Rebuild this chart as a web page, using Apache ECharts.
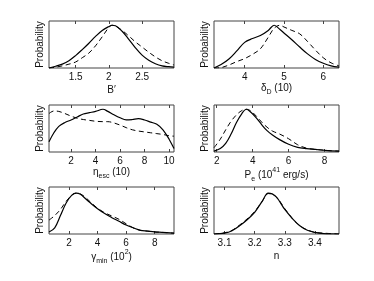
<!DOCTYPE html>
<html><head><meta charset="utf-8">
<script src="https://cdn.jsdelivr.net/npm/echarts@6/dist/echarts.min.js"></script>
<style>html,body{margin:0;padding:0;background:#fff}#c{width:374px;height:281px}</style>
</head><body><div id="c"></div>
<script>
// ---- data ----
const bX      = [1.1,1.2,1.3,1.4,1.5,1.6,1.7,1.8,1.9,2.0,2.05,2.1,2.2,2.3,2.4,2.5,2.6,2.7,2.8,2.9,2.98];
const bSolid  = [0,0.04,0.09,0.17,0.29,0.43,0.58,0.74,0.88,0.97,1.0,0.99,0.86,0.67,0.47,0.3,0.18,0.1,0.05,0.03,0.02];
const bDash   = [0,0.02,0.05,0.09,0.14,0.24,0.35,0.52,0.73,0.95,1.0,0.98,0.88,0.75,0.61,0.49,0.37,0.26,0.17,0.11,0.07];
const bTicks  = [1.5,2,2.5];

const dX      = [3.22,3.4,3.6,3.8,4.0,4.2,4.4,4.6,4.75,4.9,5.0,5.2,5.4,5.6,5.8,6.0,6.2,6.4];
const dSolid  = [0,0.08,0.21,0.4,0.6,0.69,0.76,0.88,1.0,0.9,0.82,0.66,0.49,0.33,0.2,0.11,0.05,0.02];
const dDash   = [0,0.01,0.07,0.15,0.22,0.32,0.45,0.72,0.93,1.0,0.96,0.88,0.8,0.62,0.42,0.24,0.12,0.05];
const dTicks  = [4,5,6];

const eX      = [0.2,0.6,1.0,1.5,2.0,2.5,3.0,3.5,4.0,4.6,5.0,5.5,6.0,6.5,7.0,7.5,8.0,8.5,9.0,9.5,10.0,10.4];
const eSolid  = [0.24,0.45,0.6,0.69,0.75,0.82,0.89,0.92,0.95,1.0,0.95,0.87,0.8,0.75,0.76,0.78,0.75,0.7,0.65,0.52,0.3,0.08];
const eDash   = [0.9,0.96,0.95,0.9,0.84,0.79,0.76,0.74,0.72,0.71,0.71,0.68,0.63,0.57,0.52,0.49,0.47,0.45,0.43,0.41,0.38,0.37];
const eTicks  = [2,4,6,8,10];

const pX      = [1.85,2.2,2.5,2.8,3.1,3.4,3.65,3.9,4.2,4.5,4.8,5.1,5.5,6.0,6.5,7.0,7.5,8.0,8.8];
const pSolid  = [0.02,0.08,0.2,0.42,0.69,0.9,1.0,0.93,0.8,0.64,0.5,0.4,0.29,0.18,0.11,0.08,0.06,0.04,0.02];
const pDash   = [0.1,0.3,0.52,0.72,0.87,0.97,1.0,0.96,0.84,0.7,0.58,0.49,0.42,0.31,0.17,0.09,0.06,0.04,0.02];
const pTicks  = [2,4,6,8];

const gX      = [0.6,1.0,1.4,1.8,2.2,2.5,2.8,3.2,3.6,4.0,4.5,5.0,5.5,6.0,6.5,7.0,7.5,8.0,8.5,9.35];
const gSolid  = [0.05,0.15,0.45,0.76,0.95,1.0,0.97,0.85,0.73,0.62,0.5,0.4,0.31,0.22,0.15,0.09,0.07,0.05,0.04,0.02];
const gDash   = [0.34,0.45,0.6,0.8,0.95,1.0,0.98,0.88,0.75,0.63,0.52,0.44,0.36,0.25,0.15,0.09,0.07,0.05,0.04,0.02];
const gTicks  = [2,4,6,8];

const nX      = [3.065,3.1,3.125,3.15,3.175,3.2,3.225,3.245,3.27,3.3,3.325,3.35,3.375,3.4,3.43,3.48];
const nSolid  = [0,0.02,0.08,0.2,0.35,0.53,0.8,1.0,0.92,0.6,0.38,0.2,0.09,0.04,0.01,0];
const nDash   = [0,0.03,0.09,0.22,0.37,0.55,0.8,0.99,0.92,0.62,0.38,0.2,0.1,0.04,0.02,0];
const nTicks  = [3.1,3.2,3.3,3.4];

const xNames = [
  "{n|B′}",
  "{n|δ}{sub|D}{n| (10)}",
  "{n|η}{sub|esc}{n| (10)}",
  "{n|P}{sub|e}{n| (10}{sup|41}{n| erg/s)}",
  "{n|γ}{sub|min}{n| (10}{sup|2}{n|)}",
  "{n|n}"
];
const yName = "Probability";

// ---- layout ----
const panels = [
  {x:bX, s:bSolid, d:bDash, t:bTicks, min:1.1,  max:2.98, ymax:1.1,  left:49,  top:21,  gap:14},
  {x:dX, s:dSolid, d:dDash, t:dTicks, min:3.22, max:6.4,  ymax:1.1,  left:214, top:21,  gap:9},
  {x:eX, s:eSolid, d:eDash, t:eTicks, min:0.2,  max:10.4, ymax:1.1,  left:49,  top:105, gap:10},
  {x:pX, s:pSolid, d:pDash, t:pTicks, min:1.85, max:8.8,  ymax:1.1,  left:214, top:105, gap:10},
  {x:gX, s:gSolid, d:gDash, t:gTicks, min:0.6,  max:9.35, ymax:1.15, left:49,  top:187, gap:14},
  {x:nX, s:nSolid, d:nDash, t:nTicks, min:3.065,max:3.48, ymax:1.15, left:214, top:187, gap:14}
];
const FONT = "Liberation Sans";
const rich = {
  n:   {fontSize:10, lineHeight:16, verticalAlign:'middle', fontFamily:FONT, color:'#111'},
  sub: {fontSize:7,  lineHeight:7,  verticalAlign:'bottom', fontFamily:FONT, color:'#111'},
  sup: {fontSize:7,  lineHeight:7,  verticalAlign:'top',    fontFamily:FONT, color:'#111'}
};

const grid=[], xAxis=[], yAxis=[], series=[];
panels.forEach((p,i)=>{
  grid.push({left:p.left, top:p.top, width:125, height:47, show:true, borderColor:'#444', borderWidth:1, backgroundColor:'transparent'});
  xAxis.push({type:'value', gridIndex:i, min:p.min, max:p.max, position:'bottom',
    axisLine:{show:false}, splitLine:{show:false},
    axisTick:{show:true, inside:true, length:3, customValues:p.t, lineStyle:{color:'#444'}},
    axisLabel:{show:true, customValues:p.t, margin:4, fontSize:10, fontFamily:FONT, color:'#111',
      formatter:v=>String(v)},
    name:xNames[i], nameLocation:'middle', nameGap:p.gap,
    nameTextStyle:{fontSize:10, fontFamily:FONT, color:'#111', rich:rich}
  });
  xAxis.push({type:'value', gridIndex:i, min:p.min, max:p.max, position:'top',
    axisLine:{show:false}, splitLine:{show:false},
    axisTick:{show:true, inside:true, length:3, customValues:p.t, lineStyle:{color:'#444'}},
    axisLabel:{show:false}
  });
  yAxis.push({type:'value', gridIndex:i, min:0, max:p.ymax,
    axisLine:{show:false}, axisTick:{show:false}, axisLabel:{show:false}, splitLine:{show:false},
    name:yName, nameLocation:'middle', nameRotate:90, nameGap:4,
    nameTextStyle:{fontSize:10, fontFamily:FONT, color:'#111'}
  });
  const xi = i*2;
  series.push({type:'line', xAxisIndex:xi, yAxisIndex:i, data:p.x.map((v,k)=>[v,p.s[k]]),
    smooth:0.35, symbol:'none', clip:true, lineStyle:{color:'#000', width:1.2, type:'solid'}, silent:true, animation:false});
  series.push({type:'line', xAxisIndex:xi, yAxisIndex:i, data:p.x.map((v,k)=>[v,p.d[k]]),
    smooth:0.35, symbol:'none', clip:true, lineStyle:{color:'#000', width:1, type:[5,3.5]}, silent:true, animation:false});
});

const chart = echarts.init(document.getElementById('c'), null, {renderer:'canvas'});
chart.setOption({animation:false, backgroundColor:'#fff', grid, xAxis, yAxis, series});
</script></body></html>
